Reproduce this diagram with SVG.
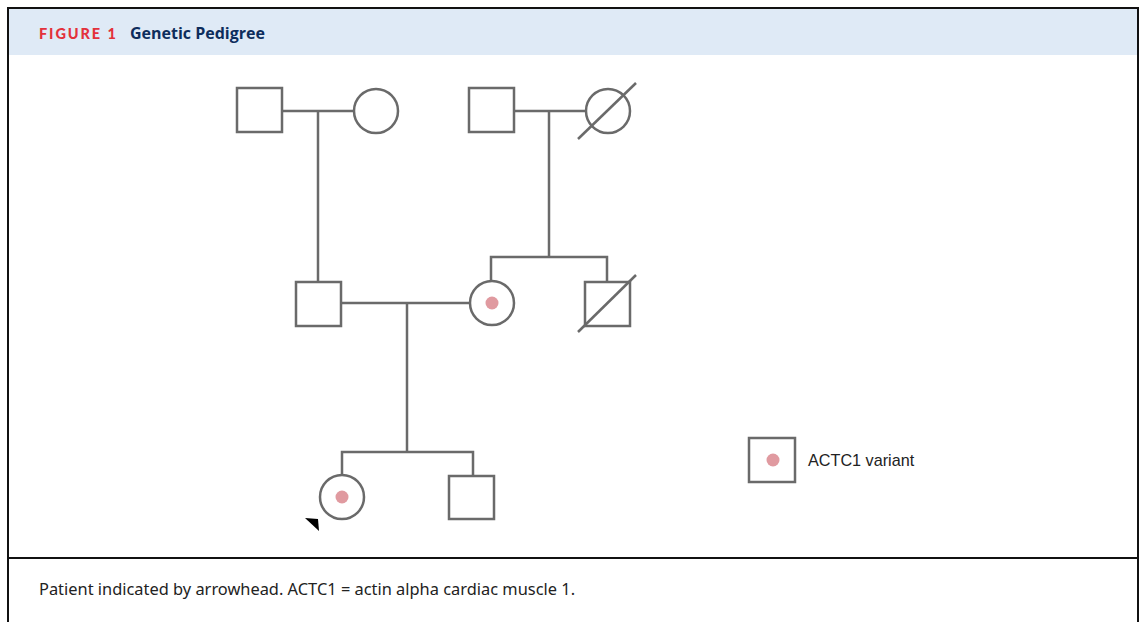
<svg xmlns="http://www.w3.org/2000/svg" width="1142" height="622" viewBox="0 0 1142 622">
<style>
.sym{fill:#fff;stroke:#6a6a6a;stroke-width:2.5}
.ln{fill:none;stroke:#6a6a6a;stroke-width:2.5}
.dot{fill:#e09aa0}
.frame{fill:none;stroke:#111;stroke-width:2}
</style>
<rect x="0" y="0" width="1142" height="622" fill="#fff"/>
<rect x="8" y="8" width="1130" height="47" fill="#dfeaf6"/>
<path class="frame" d="M8,640 V8 H1138 V640"/>
<line x1="8" y1="558" x2="1138" y2="558" stroke="#111" stroke-width="2"/>
<text x="39" y="39" font-family="Lato, 'Open Sans', sans-serif" font-weight="900" font-size="14.5" letter-spacing="1.9" fill="#e3313b">FIGURE 1</text>
<text x="130" y="39" font-family="'Open Sans', 'Noto Sans', sans-serif" font-weight="700" font-size="16" fill="#0d2d5c">Genetic Pedigree</text>
<g id="connectors">
<line class="ln" x1="282" y1="111" x2="354" y2="111"/>
<line class="ln" x1="318" y1="111" x2="318" y2="282"/>
<line class="ln" x1="514" y1="111" x2="586" y2="111"/>
<line class="ln" x1="549" y1="111" x2="549" y2="257"/>
<path class="ln" d="M491,281 V257 H607 V282"/>
<line class="ln" x1="341" y1="303" x2="470" y2="303"/>
<line class="ln" x1="407" y1="303" x2="407" y2="452"/>
<path class="ln" d="M342,475 V452 H473 V476"/>
</g>
<g id="gf1"><rect class="sym" x="237" y="88" width="45" height="44"/></g>
<g id="gm1"><circle class="sym" cx="376" cy="111" r="22"/></g>
<g id="gf2"><rect class="sym" x="469" y="88" width="45" height="44"/></g>
<g id="gm2"><circle class="sym" cx="608" cy="111" r="22"/><line class="ln" x1="578" y1="139" x2="636" y2="83"/></g>
<g id="father"><rect class="sym" x="296" y="282" width="45" height="44"/></g>
<g id="mother"><circle class="sym" cx="492" cy="303" r="22"/><circle class="dot" cx="492" cy="303" r="6.5"/></g>
<g id="uncle"><rect class="sym" x="585" y="282" width="45" height="44"/><line class="ln" x1="578" y1="332" x2="636" y2="275"/></g>
<g id="patient"><circle class="sym" cx="342" cy="497" r="22"/><circle class="dot" cx="342" cy="497" r="6.5"/><polygon points="305,518 318,519 319,531" fill="#000"/></g>
<g id="brother"><rect class="sym" x="449" y="476" width="45" height="43"/></g>
<g id="legend"><rect class="sym" x="749" y="438" width="46" height="44"/><circle class="dot" cx="773" cy="460" r="6.5"/>
<text x="808" y="466" font-family="'Liberation Sans', Arial, sans-serif" font-size="16.2" fill="#222">ACTC1 variant</text></g>
<text x="39" y="595" font-family="'Noto Sans', 'Open Sans', sans-serif" font-size="16.4" fill="#222">Patient indicated by arrowhead. ACTC1 = actin alpha cardiac muscle 1.</text>
</svg>
